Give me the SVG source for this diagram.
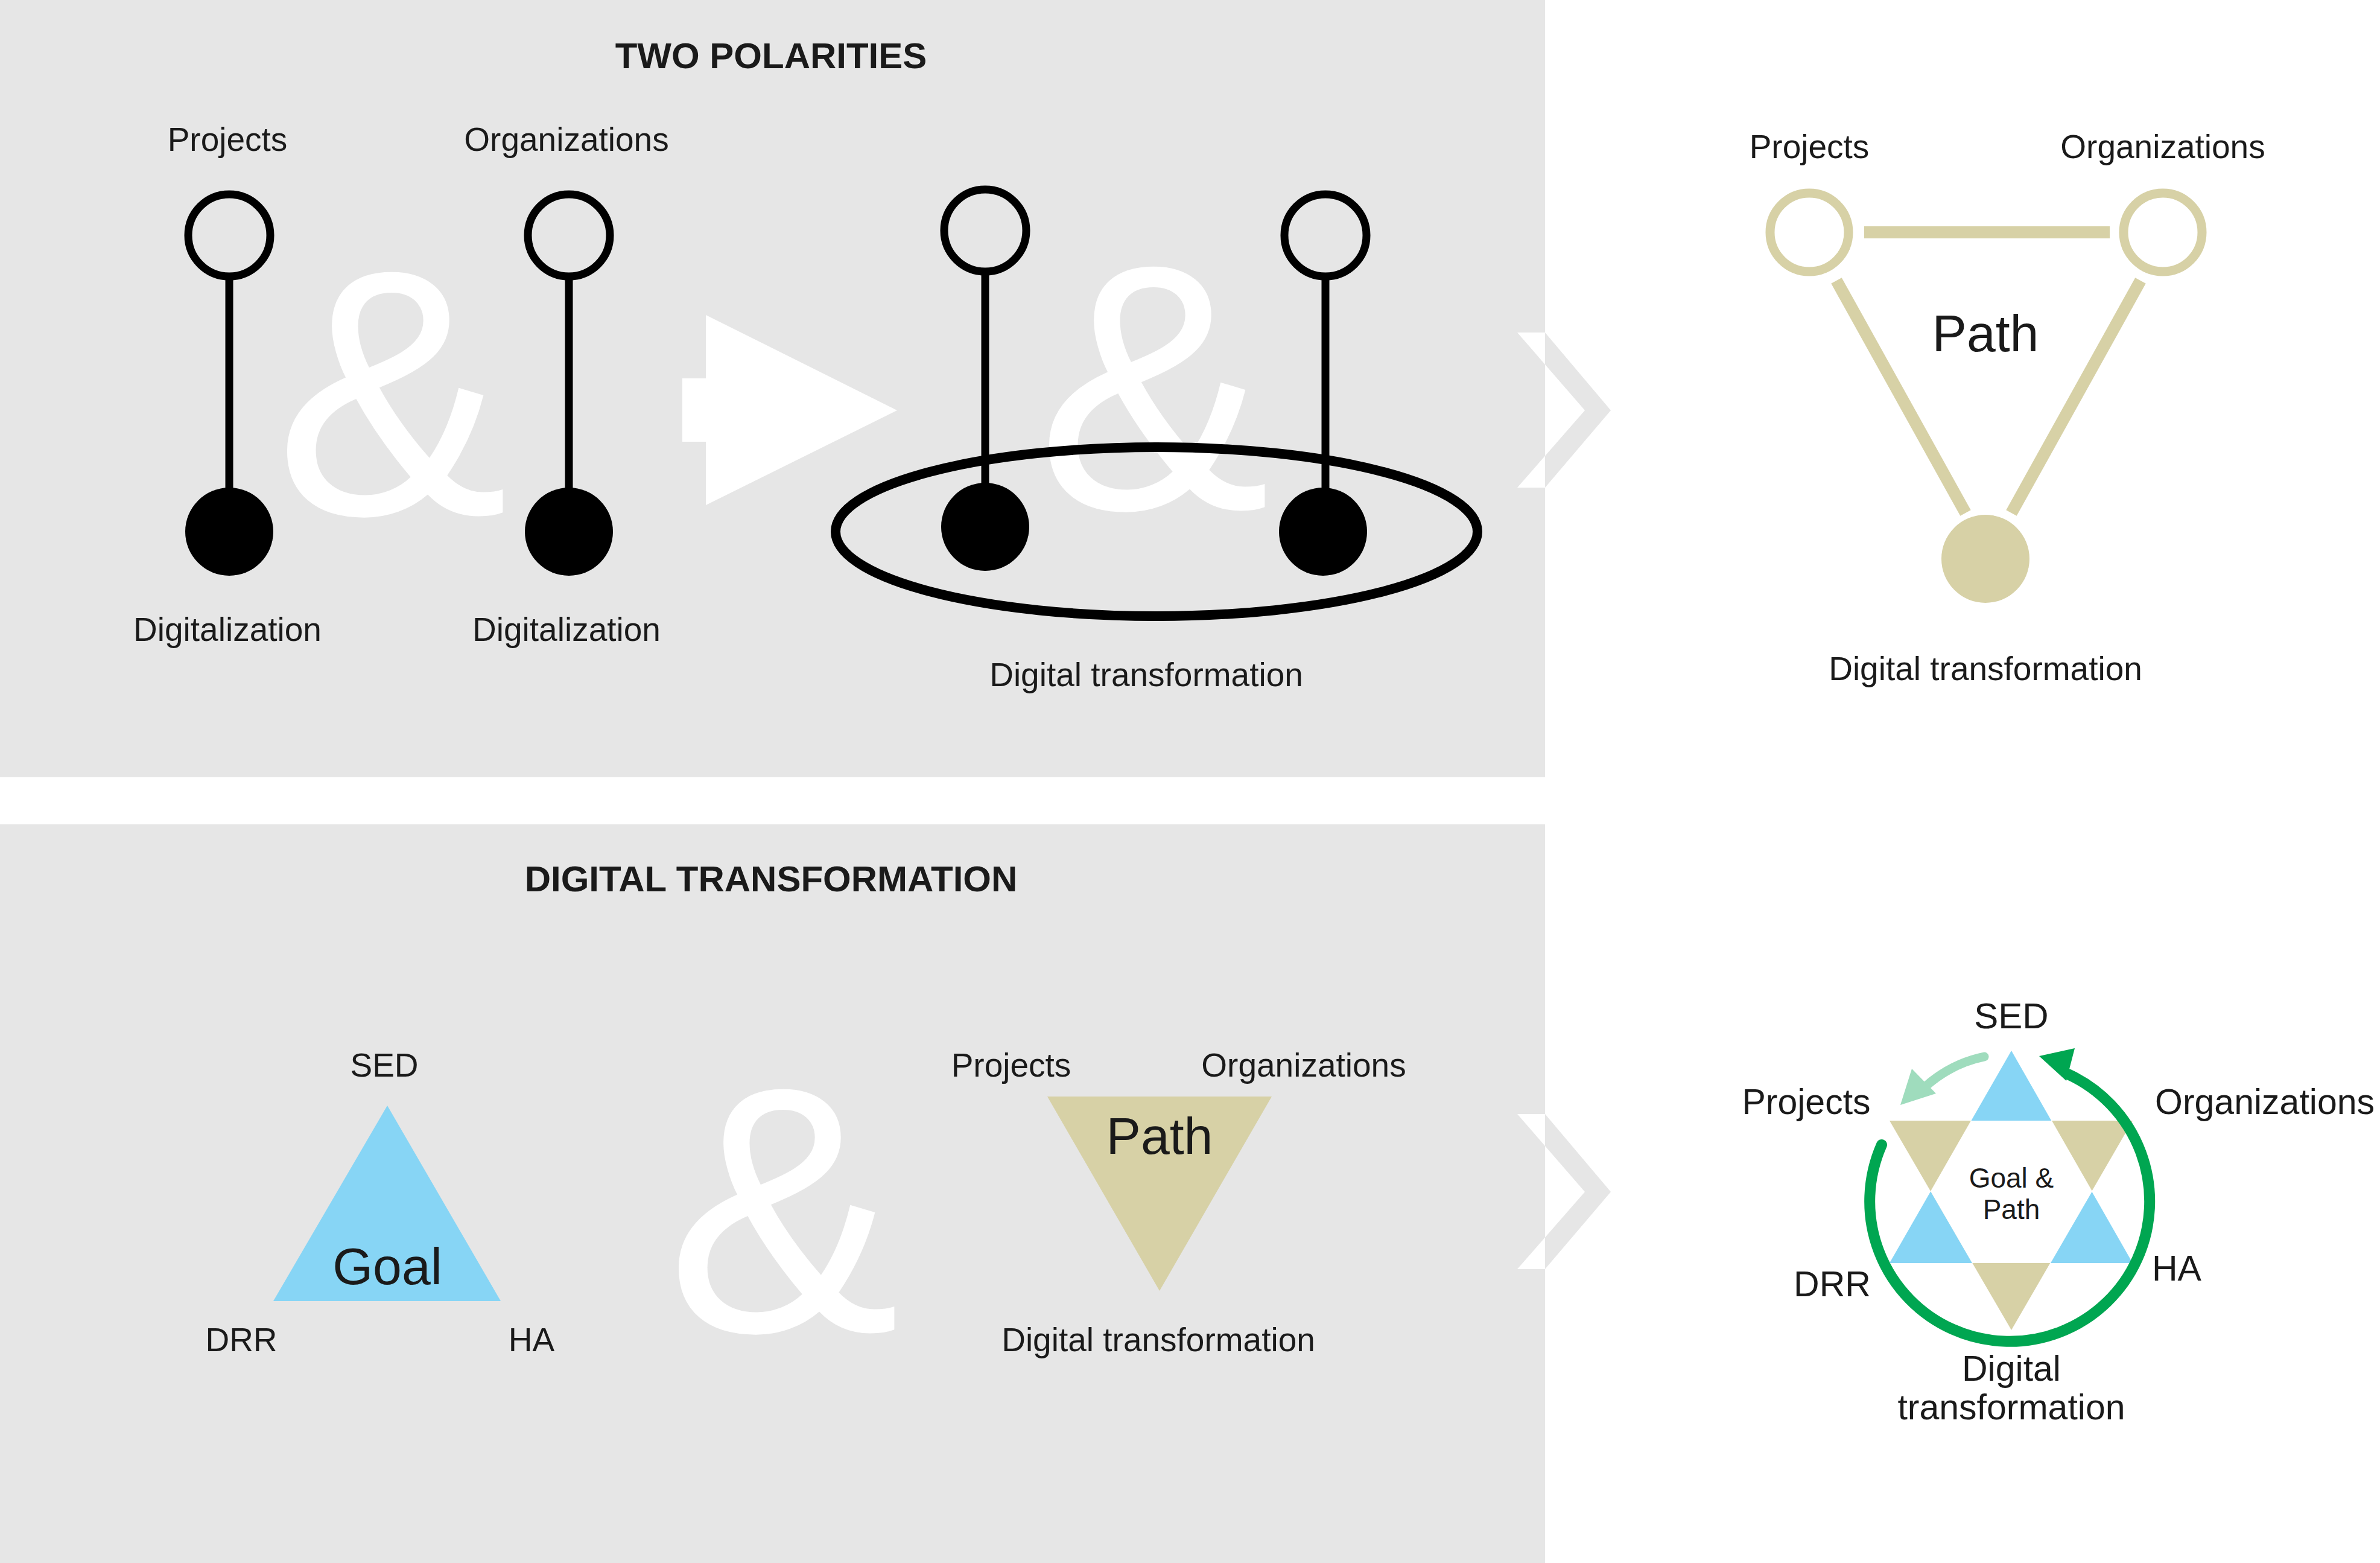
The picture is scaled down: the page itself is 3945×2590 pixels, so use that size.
<svg xmlns="http://www.w3.org/2000/svg" width="3945" height="2590" viewBox="0 0 3945 2590">
<style>
text{font-family:"Liberation Sans",Arial,sans-serif;fill:#1a1a1a;text-anchor:middle}
.lb{font-size:55px}
.ti{font-size:60px;font-weight:bold}
.amp{font-size:580px;fill:#fff}
.big{font-size:86px}
.oc{fill:none;stroke:#000;stroke-width:13}
.ln{stroke:#000;stroke-width:13}
.kh{fill:#d7d1a6}
.kl{stroke:#d7d1a6;stroke-width:20;fill:none}
.bl{fill:#87d5f5}
</style>
<defs>
<polygon id="chev" points="2515,551 2561,551 2670,680 2561,808 2515,808 2627,680"/>
<clipPath id="inP"><rect x="0" y="0" width="2561" height="2590"/></clipPath>
<clipPath id="outP"><rect x="2561" y="0" width="1384" height="2590"/></clipPath>
</defs>
<rect x="0" y="0" width="2561" height="1288" fill="#e6e6e6"/>
<rect x="0" y="1366" width="2561" height="1224" fill="#e6e6e6"/>
<g id="chevrons">
<use href="#chev" fill="#fff" clip-path="url(#inP)"/>
<use href="#chev" fill="#e6e6e6" clip-path="url(#outP)"/>
<g transform="translate(0,1295)"><use href="#chev" fill="#fff" clip-path="url(#inP)"/><use href="#chev" fill="#e6e6e6" clip-path="url(#outP)"/></g>
</g>
<text class="ti" x="1278" y="113">TWO POLARITIES</text>
<text class="ti" x="1278" y="1477">DIGITAL TRANSFORMATION</text>
<g id="amp1"><text class="amp" x="649" y="852">&amp;</text></g>
<g id="pol1">
<line class="ln" x1="380" y1="458" x2="380" y2="810"/>
<circle class="oc" cx="380" cy="390" r="68"/>
<circle cx="380" cy="881" r="73"/>
<text class="lb" x="377" y="250">Projects</text>
<text class="lb" x="377" y="1062">Digitalization</text>
</g>
<g id="pol2">
<line class="ln" x1="943" y1="458" x2="943" y2="810"/>
<circle class="oc" cx="943" cy="390" r="68"/>
<circle cx="943" cy="881" r="73"/>
<text class="lb" x="939" y="250">Organizations</text>
<text class="lb" x="939" y="1062">Digitalization</text>
</g>
<g id="arrow"><polygon fill="#fff" points="1131,627 1170,627 1170,522 1487,680 1170,837 1170,732 1131,732"/></g>
<g id="amp2"><text class="amp" x="1912" y="843">&amp;</text></g>
<g id="dt">
<line class="ln" x1="1633" y1="450" x2="1633" y2="810"/>
<line class="ln" x1="2197" y1="458" x2="2197" y2="810"/>
<circle class="oc" cx="1633" cy="382" r="68"/>
<circle class="oc" cx="2197" cy="390" r="68"/>
<circle cx="1633" cy="873" r="73"/>
<circle cx="2193" cy="881" r="73"/>
<ellipse cx="1917" cy="881" rx="532" ry="140" fill="none" stroke="#000" stroke-width="16"/>
<text class="lb" x="1900" y="1137">Digital transformation</text>
</g>
<g id="pathTri">
<line class="kl" x1="3090" y1="385" x2="3497" y2="385"/>
<line class="kl" x1="3044" y1="465" x2="3258" y2="850"/>
<line class="kl" x1="3548" y1="465" x2="3334" y2="850"/>
<circle cx="2999" cy="385" r="65" fill="none" stroke="#d7d1a6" stroke-width="15"/>
<circle cx="3585" cy="385" r="65" fill="none" stroke="#d7d1a6" stroke-width="15"/>
<circle cx="3291" cy="926" r="73" class="kh"/>
<text class="lb" x="2999" y="262">Projects</text>
<text class="lb" x="3585" y="262">Organizations</text>
<text class="big" x="3291" y="582">Path</text>
<text class="lb" x="3291" y="1127">Digital transformation</text>
</g>
<g id="goal">
<polygon class="bl" points="642,1832 453,2156 830,2156"/>
<text class="big" x="642" y="2128">Goal</text>
<text class="lb" x="637" y="1784">SED</text>
<text class="lb" x="400" y="2239">DRR</text>
<text class="lb" x="881" y="2239">HA</text>
</g>
<g id="amp3"><text class="amp" x="1298" y="2206">&amp;</text></g>
<g id="path2">
<polygon class="kh" points="1736,1817 2108,1817 1922,2139"/>
<text class="big" x="1922" y="1912">Path</text>
<text class="lb" x="1676" y="1784">Projects</text>
<text class="lb" x="2161" y="1784">Organizations</text>
<text class="lb" x="1920" y="2239">Digital transformation</text>
</g>
<g id="star">
<polygon class="bl" points="3334,1741 3132,2093 3535,2093"/>
<polygon class="kh" points="3132,1857 3535,1857 3334,2204"/>
<polygon fill="#fff" points="3267,1857 3401,1857 3468,1974 3399,2093 3269,2093 3200,1974"/>
<text x="3334" y="1968" style="font-size:46px">Goal &amp;</text>
<text x="3334" y="2020" style="font-size:46px">Path</text>
<text class="lb" x="3334" y="1704" style="font-size:60px">SED</text>
<text class="lb" x="2994" y="1846" style="font-size:59px">Projects</text>
<text class="lb" x="3754" y="1846" style="font-size:59px">Organizations</text>
<text class="lb" x="3608" y="2122" style="font-size:59px">HA</text>
<text class="lb" x="3037" y="2148" style="font-size:59px">DRR</text>
<text class="lb" x="3334" y="2288" style="font-size:59px">Digital</text>
<text class="lb" x="3334" y="2352" style="font-size:59px">transformation</text>
</g>
<g id="connectors">
<path d="M 3119 1897 A 232 232 0 1 0 3428 1780" fill="none" stroke="#00a651" stroke-width="18" stroke-linecap="round"/>
<polygon fill="#00a651" points="3439,1737 3380,1750 3425,1791"/>
<path d="M 3289 1751 Q 3235 1762 3192 1800" fill="none" stroke="#9fdcbd" stroke-width="15" stroke-linecap="round"/>
<polygon fill="#9fdcbd" points="3150,1831 3169,1771 3209,1812"/>
</g>
</svg>
